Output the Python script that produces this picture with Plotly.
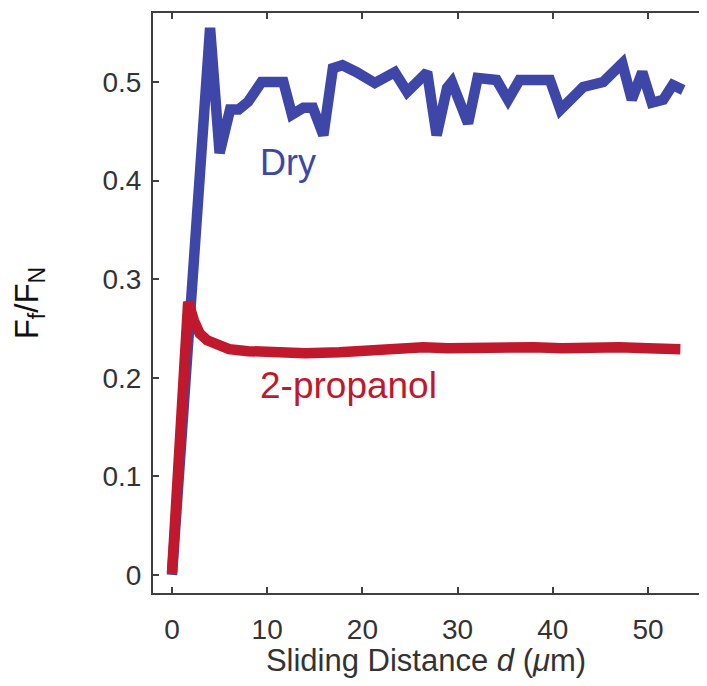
import plotly.graph_objects as go

# Dry series
dry_x = [0, 4.0, 5.0, 6.1, 7.0, 8.0, 9.4, 11.7, 12.6, 13.8, 14.8, 15.9, 16.9, 17.9, 19.4,
         21.3, 23.4, 24.7, 26.8, 27.8, 28.9, 29.4, 31.1, 32.1, 34.1, 35.3, 36.5, 39.7,
         40.8, 43.2, 45.3, 47.3, 48.3, 49.4, 50.4, 51.6, 52.6, 53.7]
dry_y = [0, 0.555, 0.428, 0.472, 0.472, 0.48, 0.5, 0.5, 0.467, 0.474, 0.474, 0.446, 0.514,
         0.517, 0.51, 0.499, 0.51, 0.49, 0.51, 0.446, 0.494, 0.5, 0.458, 0.504, 0.502,
         0.482, 0.502, 0.502, 0.472, 0.495, 0.5, 0.519, 0.482, 0.51, 0.479, 0.482, 0.497, 0.492]

# 2-propanol series
prop_x = [0, 1.7, 2.3, 2.9, 3.7, 4.7, 6, 8, 10, 12, 14, 17.6, 20, 23, 26.4, 29, 32, 35.2,
          38, 41, 44, 47, 50, 53.4]
prop_y = [0.002, 0.277, 0.258, 0.245, 0.238, 0.233, 0.229, 0.227, 0.226, 0.226, 0.225,
          0.226, 0.228, 0.230, 0.231, 0.230, 0.231, 0.232, 0.231, 0.230, 0.231, 0.231,
          0.230, 0.229]

x_ticks = [0, 10, 20, 30, 40, 50]
y_ticks = [0, 0.1, 0.2, 0.3, 0.4, 0.5]
y_tick_labels = ["0", "0.1", "0.2", "0.3", "0.4", "0.5"]

BLUE = "#3e47a8"
RED = "#c0182c"
FONT = "Arial, Liberation Sans, Helvetica, sans-serif"
AX = "#404040"

fig = go.Figure()
fig.add_trace(go.Scatter(x=dry_x, y=dry_y, mode="lines",
                         line=dict(color=BLUE, width=10.5), showlegend=False))
fig.add_trace(go.Scatter(x=prop_x, y=prop_y, mode="lines",
                         line=dict(color=RED, width=10.5), showlegend=False))

fig.add_annotation(x=12.2, y=0.418, text="Dry", showarrow=False,
                   font=dict(family=FONT, size=36, color=BLUE))
fig.add_annotation(x=18.5, y=0.192, text="2-propanol", showarrow=False,
                   font=dict(family=FONT, size=37, color=RED))

# page body has an 8px margin, so the figure is offset by 8px; compensate
fig.update_layout(
    width=691, height=670,
    margin=dict(l=145, r=0, t=5, b=85, autoexpand=False),
    paper_bgcolor="white", plot_bgcolor="white",
    font=dict(family=FONT, color="#333333"),
    xaxis=dict(range=[-1.996, 55.36], tickvals=x_ticks, ticks="inside", ticklen=6,
               tickwidth=2, tickcolor=AX, showline=True, linecolor=AX, linewidth=2,
               mirror="ticks", showgrid=False, zeroline=False, automargin=False,
               tickfont=dict(size=28, color="#333333"), ticklabelstandoff=10,
               title=dict(text="Sliding Distance <i>d</i> (<i>μ</i>m)",
                          font=dict(size=31, color="#333333"), standoff=8)),
    yaxis=dict(range=[-0.0183, 0.57], tickvals=y_ticks, ticktext=y_tick_labels,
               ticks="inside", ticklen=6, tickwidth=2, tickcolor=AX, showline=True,
               linecolor=AX, linewidth=2, mirror=False, showgrid=False, zeroline=False,
               automargin=False,
               tickfont=dict(size=28, color="#333333"), ticklabelstandoff=4,
               title=dict(text="F<sub>f</sub>/F<sub>N</sub>",
                          font=dict(size=33, color="#111111"), standoff=54)),
)

fig.write_html("out.html")
